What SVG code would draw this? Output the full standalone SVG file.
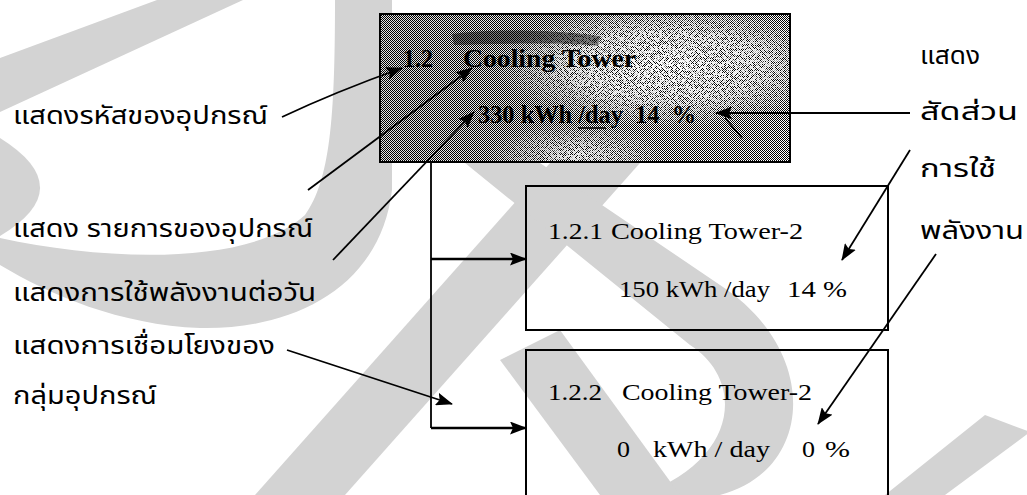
<svg xmlns="http://www.w3.org/2000/svg" width="1027" height="495" viewBox="0 0 1027 495">
<defs>
<style>
.wm{fill:#d3d3d3}
.th{font-family:'Noto Sans Thai','Noto Serif Thai','Loma','Garuda','Norasi','Tlwg Typo','DejaVu Sans',sans-serif;font-size:25px;fill:#000}
.en{font-family:'Liberation Serif','Times New Roman',serif;font-size:23px;fill:#000}
.enb{font-family:'Liberation Serif','Times New Roman',serif;font-size:26px;font-weight:bold;fill:#000}
.box{fill:none;stroke:#000;stroke-width:2}
.conn{fill:none;stroke:#000;stroke-width:1.8}
.branch{fill:none;stroke:#000;stroke-width:2.6}
</style>
<marker id="ah" markerUnits="userSpaceOnUse" markerWidth="17" markerHeight="13" refX="16" refY="6.5" orient="auto">
<path d="M0,0 L17,6.5 L0,13 L3,6.5 Z" fill="#000"/>
</marker>
<pattern id="dither" width="2" height="2" patternUnits="userSpaceOnUse">
<rect width="2" height="2" fill="#fff"/>
<rect width="1" height="1" fill="#000"/>
<rect x="1" y="1" width="1" height="1" fill="#000"/>
</pattern>
<linearGradient id="shade" x1="0" y1="0" x2="1" y2="0">
<stop offset="0" stop-color="#000" stop-opacity="0.12"/>
<stop offset="0.5" stop-color="#000" stop-opacity="0.05"/>
<stop offset="0.65" stop-color="#fff" stop-opacity="0"/>
</linearGradient>
<radialGradient id="glow1" cx="0.7" cy="0.35" r="0.42">
<stop offset="0" stop-color="#fff" stop-opacity="1"/>
<stop offset="0.55" stop-color="#fff" stop-opacity="0.8"/>
<stop offset="1" stop-color="#fff" stop-opacity="0"/>
</radialGradient>
<radialGradient id="glow2" cx="0.48" cy="0.95" r="0.22">
<stop offset="0" stop-color="#fff" stop-opacity="0.9"/>
<stop offset="1" stop-color="#fff" stop-opacity="0"/>
</radialGradient>
<filter id="speck" x="0" y="0" width="1" height="1">
<feTurbulence type="fractalNoise" baseFrequency="0.45" numOctaves="2" seed="7" result="n"/>
<feColorMatrix in="n" type="matrix" values="0 0 0 0 1  0 0 0 0 1  0 0 0 0 1  7 0 0 0 -3" result="s"/>
<feComposite in="s" in2="SourceGraphic" operator="in"/>
</filter>
</defs>
<rect width="1027" height="495" fill="#fff"/>
<g id="watermark">
<polygon class="wm" points="157,0 243,0 0,112 0,58"/>
<path class="wm" d="M0,138 Q80,188 0,236 Z"/>
<path class="wm" d="M0,238 C110,262 250,265 305,215 C330,180 335,120 335,0 L392,0 L392,190 C380,290 290,330 200,328 C120,325 50,295 0,265 Z"/>
<polygon class="wm" points="550,163 640,163 345,495 255,495"/>
<path class="wm" d="M465,163 L540,163 L720,285 C820,350 815,470 720,495 L640,495 C740,460 745,380 690,345 Z"/>
<polygon class="wm" points="500,360 560,330 680,495 600,495"/>
<polygon class="wm" points="985,415 1030,432 945,495 885,495"/>
</g>
<g id="node-1-2">
<rect x="380" y="14" width="410" height="148" fill="url(#dither)"/>
<rect x="380" y="14" width="410" height="148" fill="url(#shade)"/>
<rect x="380" y="14" width="410" height="148" fill="url(#glow1)" filter="url(#speck)"/>
<rect x="380" y="14" width="410" height="148" fill="url(#glow2)" filter="url(#speck)"/>
<path d="M452,34 C490,28 560,30 600,36 L598,46 C560,42 500,44 454,45 Z" fill="#000" opacity="0.45"/>
<rect x="380" y="14" width="410" height="148" class="box"/>
<text class="enb" x="403" y="67" textLength="30" lengthAdjust="spacingAndGlyphs">1.2</text>
<text class="enb" x="463" y="67" textLength="173" lengthAdjust="spacingAndGlyphs">Cooling Tower</text>
<text class="enb" x="478" y="123" textLength="218" lengthAdjust="spacingAndGlyphs" xml:space="preserve">330 kWh /day  14  %</text>
<line x1="578" y1="128" x2="606" y2="128" stroke="#000" stroke-width="1.5"/>
<line x1="725" y1="118" x2="742" y2="138" stroke="#000" stroke-width="1.5"/>
</g>
<g id="node-1-2-1">
<rect x="526" y="186" width="362" height="144" class="box"/>
<text class="en" x="548" y="239" textLength="55" lengthAdjust="spacingAndGlyphs">1.2.1</text>
<text class="en" x="611" y="239" textLength="192" lengthAdjust="spacingAndGlyphs">Cooling Tower-2</text>
<text class="en" x="619" y="297" textLength="151" lengthAdjust="spacingAndGlyphs">150 kWh /day</text>
<text class="en" x="787" y="297" textLength="60" lengthAdjust="spacingAndGlyphs">14 %</text>
</g>
<g id="node-1-2-2">
<path d="M526,495 V350 H888 V495" class="box"/>
<text class="en" x="548" y="400" textLength="54" lengthAdjust="spacingAndGlyphs">1.2.2</text>
<text class="en" x="622" y="400" textLength="190" lengthAdjust="spacingAndGlyphs">Cooling Tower-2</text>
<text class="en" x="617" y="457" textLength="13" lengthAdjust="spacingAndGlyphs">0</text>
<text class="en" x="653" y="457" textLength="117" lengthAdjust="spacingAndGlyphs">kWh / day</text>
<text class="en" x="802" y="457" textLength="13" lengthAdjust="spacingAndGlyphs">0</text>
<text class="en" x="825" y="457" textLength="25" lengthAdjust="spacingAndGlyphs">%</text>
</g>
<g id="labels-left">
<text class="th" x="13" y="124" textLength="255" lengthAdjust="spacingAndGlyphs">แสดงรหัสของอุปกรณ์</text>
<text class="th" x="13" y="237" textLength="300" lengthAdjust="spacingAndGlyphs">แสดง รายการของอุปกรณ์</text>
<text class="th" x="13" y="301" textLength="303" lengthAdjust="spacingAndGlyphs">แสดงการใช้พลังงานต่อวัน</text>
<text class="th" x="13" y="354" textLength="262" lengthAdjust="spacingAndGlyphs">แสดงการเชื่อมโยงของ</text>
<text class="th" x="13" y="404" textLength="144" lengthAdjust="spacingAndGlyphs">กลุ่มอุปกรณ์</text>
</g>
<g id="labels-right">
<text class="th" x="920" y="64" textLength="60" lengthAdjust="spacingAndGlyphs">แสดง</text>
<text class="th" x="920" y="120" textLength="98" lengthAdjust="spacingAndGlyphs">สัดส่วน</text>
<text class="th" x="920" y="177" textLength="76" lengthAdjust="spacingAndGlyphs">การใช้</text>
<text class="th" x="920" y="239" textLength="104" lengthAdjust="spacingAndGlyphs">พลังงาน</text>
</g>
<g id="connectors">
<path class="conn" d="M282,117 Q335,92 402,68" marker-end="url(#ah)"/>
<path class="conn" d="M308,190 L472,68" marker-end="url(#ah)"/>
<path class="conn" d="M333,260 L474,112" marker-end="url(#ah)"/>
<path class="conn" d="M287,350 L452,404" marker-end="url(#ah)"/>
<path class="conn" d="M910,113 L716,113" marker-end="url(#ah)"/>
<path class="conn" d="M910,150 L842,260" marker-end="url(#ah)"/>
<path class="conn" d="M936,254 L818,424" marker-end="url(#ah)"/>
<path class="conn" d="M431,162 V428" stroke-width="1.5"/>
<path class="branch" d="M431,259 H526" marker-end="url(#ah)"/>
<path class="branch" d="M431,428 H526" marker-end="url(#ah)"/>
</g>
</svg>
